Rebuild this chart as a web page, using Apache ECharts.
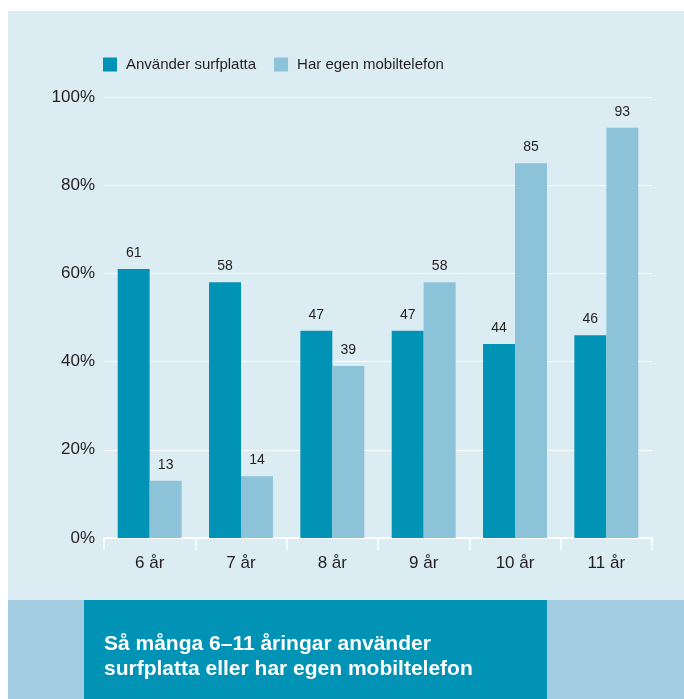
<!DOCTYPE html>
<html>
<head>
<meta charset="utf-8">
<script src="https://cdn.jsdelivr.net/npm/echarts@6/dist/echarts.min.js"></script>
<style>
html,body{margin:0;padding:0;background:#ffffff;}
#chart{width:684px;height:699px;}
</style>
</head>
<body>
<div id="chart"></div>
<script>
const categories = ['6 år', '7 år', '8 år', '9 år', '10 år', '11 år'];
const surfplatta = [61, 58, 47, 47, 44, 46];
const mobiltelefon = [13, 14, 39, 58, 85, 93];
const seriesNames = ['Använder surfplatta', 'Har egen mobiltelefon'];
const titleLines = ['Så många 6–11 åringar använder', 'surfplatta eller har egen mobiltelefon'];

const FONT = '"Liberation Sans", Arial, sans-serif';
const chart = echarts.init(document.getElementById('chart'), null, {renderer: 'canvas'});
chart.setOption({
  backgroundColor: '#ffffff',
  animation: false,
  graphic: [
    {type: 'rect', z: -10, shape: {x: 8, y: 11, width: 676, height: 589}, style: {fill: '#dcecf3'}},
    {type: 'rect', z: -10, shape: {x: 8, y: 600, width: 676, height: 99}, style: {fill: '#a2cde0'}},
    {type: 'rect', z: -9, shape: {x: 84, y: 600, width: 463, height: 99}, style: {fill: '#0093b5'}},
    {type: 'text', z: 10, left: 104, top: 632, style: {
      text: titleLines.join('\n'), fill: '#ffffff', font: 'bold 21px ' + FONT, lineHeight: 25
    }}
  ],
  legend: {
    left: 103, top: 57, padding: 0,
    itemWidth: 14, itemHeight: 14, itemGap: 18,
    icon: 'rect',
    textStyle: {fontFamily: FONT, fontSize: 15, color: '#231f20', padding: [0, 0, 0, 4]},
    data: seriesNames
  },
  grid: {left: 104, right: 32, top: 97, bottom: 161, containLabel: false},
  xAxis: {
    type: 'category',
    data: categories,
    axisLine: {show: true, lineStyle: {color: '#ffffff', width: 1.5}},
    axisTick: {show: true, length: 12, lineStyle: {color: '#ffffff', width: 1.5}},
    axisLabel: {fontFamily: FONT, fontSize: 17, color: '#231f20', margin: 17}
  },
  yAxis: {
    type: 'value', min: 0, max: 100, interval: 20,
    axisLine: {show: false}, axisTick: {show: false},
    axisLabel: {formatter: '{value}%', fontFamily: FONT, fontSize: 17, color: '#231f20', margin: 9},
    splitLine: {lineStyle: {color: '#ffffff', width: 1}}
  },
  series: [
    {
      name: seriesNames[0], type: 'bar', data: surfplatta,
      barGap: '0%', barCategoryGap: '30%',
      itemStyle: {color: '#0093b5'},
      label: {show: true, position: 'top', distance: 9, fontFamily: FONT, fontSize: 14, color: '#231f20'}
    },
    {
      name: seriesNames[1], type: 'bar', data: mobiltelefon,
      barGap: '0%', barCategoryGap: '30%',
      itemStyle: {color: '#8cc3d8'},
      label: {show: true, position: 'top', distance: 9, fontFamily: FONT, fontSize: 14, color: '#231f20'}
    }
  ]
});
</script>
</body>
</html>
